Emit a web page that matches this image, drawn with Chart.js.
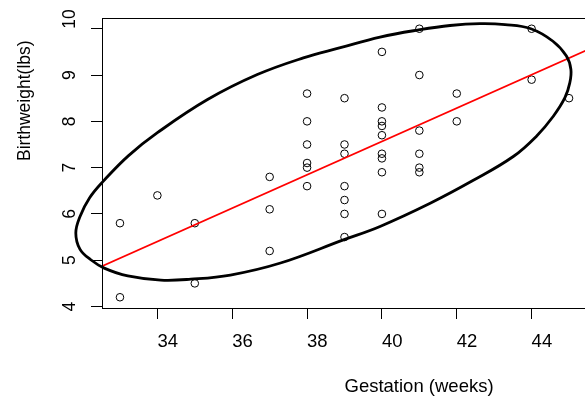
<!DOCTYPE html>
<html>
<head>
<meta charset="utf-8">
<script src="https://cdn.jsdelivr.net/npm/chart.js@4.4.1/dist/chart.umd.min.js"></script>
<style>
    html, body { margin: 0; padding: 0; background: #fff; overflow: hidden; }
    #chart { display: block; }
</style>
</head>
<body>
<canvas id="chart" width="600" height="397"></canvas>
<script>
// data
const gestation = [33, 33, 34, 35, 35, 37, 37, 37, 38, 38, 38, 38, 38, 38, 39, 39, 39, 39, 39, 39, 39,
    40, 40, 40, 40, 40, 40, 40, 40, 40, 41, 41, 41, 41, 41, 41, 42, 42, 44, 44, 45];
const birthweight = [5.8, 4.2, 6.4, 5.8, 4.5, 6.8, 6.1, 5.2, 8.6, 8.0, 7.5, 7.1, 7.0, 6.6, 8.5, 7.5, 7.3, 6.6, 6.3, 6.0, 5.5,
    9.5, 8.3, 8.0, 7.9, 7.7, 7.3, 7.2, 6.9, 6.0, 10.0, 9.0, 7.8, 7.3, 7.0, 6.9, 8.6, 8.0, 10.0, 8.9, 8.5];

// red fitted line, ends at the plot edges
const fitX = [32.52, 45.48];
const fitY = [4.87, 9.54];

// black ellipse, points traced round the curve (clockwise from the bottom)
const ellipseX = [38.97, 37.29, 35.95, 34.89, 34.09, 33.21, 32.58, 32.22, 31.93, 31.82, 31.93, 32.19,
    32.57, 33.23, 34.01, 35.34, 36.67, 37.90, 38.89, 39.95, 41.02, 41.82, 42.62, 43.29, 43.98,
    44.57, 44.93, 45.05, 45.02, 44.89, 44.58, 44.13, 43.51, 42.43, 41.29, 39.95, 38.97];
const ellipseY = [5.44, 4.94, 4.68, 4.59, 4.57, 4.66, 4.83, 5.01, 5.24, 5.59, 5.94, 6.35,
    6.72, 7.26, 7.76, 8.47, 9.01, 9.37, 9.59, 9.82, 9.98, 10.07, 10.11, 10.09, 10.0,
    9.73, 9.41, 9.12, 8.83, 8.51, 8.11, 7.68, 7.24, 6.72, 6.23, 5.73, 5.44];

const xTicks = [34, 36, 38, 40, 42, 44];
const yTicks = [4, 5, 6, 7, 8, 9, 10];
const xTitle = "Gestation (weeks)";
const yTitle = "Birthweight(lbs)";

const FONT = "'Liberation Sans', Arial, Helvetica, sans-serif";

const toPoints = (xs, ys) => xs.map((x, i) => ({ x, y: ys[i] }));

// box round the plot, rotated y labels and the two axis titles
const framePlugin = {
    id: "frame",
    afterDraw(chart) {
        const { ctx, chartArea: a, scales } = chart;
        ctx.save();
        ctx.strokeStyle = "#000";
        ctx.lineWidth = 1;
        ctx.strokeRect(a.left + 0.5, a.top + 0.5, a.right - a.left, a.bottom - a.top);

        ctx.fillStyle = "#000";
        ctx.textBaseline = "middle";
        ctx.font = "17.5px " + FONT;
        scales.y.ticks.forEach((t) => {
            const label = String(t.value);
            const y = scales.y.getPixelForValue(t.value);
            ctx.save();
            ctx.translate(70, y);
            ctx.rotate(-Math.PI / 2);
            ctx.textAlign = label.length > 1 ? "left" : "center";
            ctx.fillText(label, 0, 0);
            ctx.restore();
        });

        // titles start at the middle of the plot, as in the original
        ctx.save();
        ctx.translate(25, (a.top + a.bottom) / 2 - 2);
        ctx.rotate(-Math.PI / 2);
        ctx.textAlign = "left";
        ctx.fillText(yTitle, 0, 0);
        ctx.restore();

        ctx.font = "18.5px " + FONT;
        ctx.textAlign = "left";
        ctx.fillText(xTitle, (a.left + a.right) / 2, 387);
        ctx.restore();
    }
};

new Chart(document.getElementById("chart"), {
    type: "scatter",
    data: {
        datasets: [
            {
                label: "ellipse",
                data: toPoints(ellipseX, ellipseY),
                showLine: true,
                borderColor: "#000",
                borderWidth: 2.8,
                pointRadius: 0,
                tension: 0.4,
                clip: false,
                fill: false
            },
            {
                label: "fit",
                data: toPoints(fitX, fitY),
                showLine: true,
                borderColor: "#ff0000",
                borderWidth: 1.6,
                pointRadius: 0,
                fill: false
            },
            {
                label: "births",
                data: toPoints(gestation, birthweight),
                pointRadius: 3.8,
                pointBorderWidth: 1,
                pointBorderColor: "#000",
                pointBackgroundColor: "rgba(0,0,0,0)"
            }
        ]
    },
    options: {
        responsive: false,
        animation: false,
        events: [],
        layout: { padding: { left: 0, top: 18, right: 13, bottom: 0 } },
        elements: { line: { capBezierPoints: false } },
        plugins: { legend: { display: false }, tooltip: { enabled: false } },
        scales: {
            x: {
                type: "linear",
                min: 32.52,
                max: 45.48,
                afterBuildTicks: (scale) => { scale.ticks = xTicks.map((v) => ({ value: v })); },
                afterFit: (scale) => { scale.height = 89; },
                border: { display: false },
                grid: { drawOnChartArea: false, drawTicks: true, tickLength: 11, color: "#000", lineWidth: 1 },
                ticks: {
                    align: "start",
                    padding: 12,
                    color: "#000",
                    autoSkip: false,
                    maxRotation: 0,
                    font: { family: FONT, size: 18.5 }
                }
            },
            y: {
                type: "linear",
                min: 3.968,
                max: 10.232,
                afterBuildTicks: (scale) => { scale.ticks = yTicks.map((v) => ({ value: v })); },
                afterFit: (scale) => { scale.width = 102; },
                border: { display: false },
                grid: { drawOnChartArea: false, drawTicks: true, tickLength: 11, color: "#000", lineWidth: 1 },
                ticks: { display: false }
            }
        }
    },
    plugins: [framePlugin]
});
</script>
</body>
</html>
